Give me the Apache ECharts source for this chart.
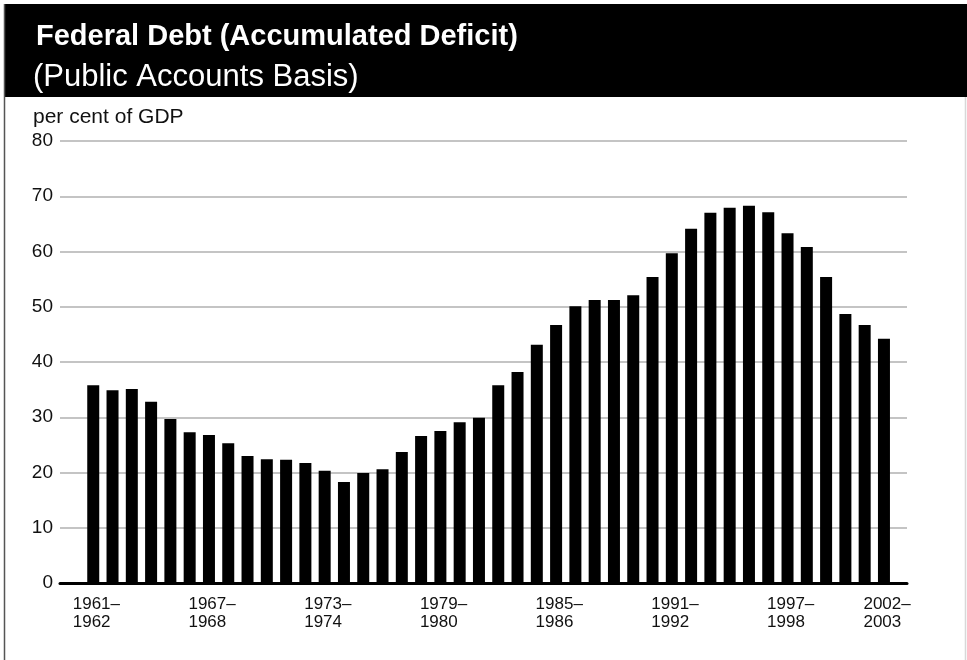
<!DOCTYPE html>
<html>
<head>
<meta charset="utf-8">
<script src="https://cdn.jsdelivr.net/npm/echarts@6/dist/echarts.min.js"></script>
<style>
html,body{margin:0;padding:0;background:#fff;}
#c{width:967px;height:660px;}
</style>
</head>
<body>
<div id="c"></div>
<script>
var categories = ['1961–1962','1962–1963','1963–1964','1964–1965','1965–1966','1966–1967','1967–1968','1968–1969','1969–1970','1970–1971','1971–1972','1972–1973','1973–1974','1974–1975','1975–1976','1976–1977','1977–1978','1978–1979','1979–1980','1980–1981','1981–1982','1982–1983','1983–1984','1984–1985','1985–1986','1986–1987','1987–1988','1988–1989','1989–1990','1990–1991','1991–1992','1992–1993','1993–1994','1994–1995','1995–1996','1996–1997','1997–1998','1998–1999','1999–2000','2000–2001','2001–2002','2002–2003'];
var debtPctGDP = [35.8,34.9,35.1,32.8,29.7,27.3,26.8,25.3,23.0,22.4,22.3,21.7,20.3,18.3,19.9,20.6,23.7,26.6,27.5,29.1,29.9,35.8,38.2,43.1,46.7,50.1,51.2,51.2,52.1,55.4,59.7,64.1,67.0,67.9,68.3,67.1,63.3,60.8,55.4,48.7,46.7,44.2];
var labelIdx = [0,6,12,18,24,30,36,41];
var yTicks = {min: 0, max: 80, step: 10};
var titleText = 'Federal Debt (Accumulated Deficit)';
var subtitleText = '(Public Accounts Basis)';
var unitText = 'per cent of GDP';

var FONT = '"Liberation Sans", Arial, Helvetica, sans-serif';
var chart = echarts.init(document.getElementById('c'), null, {renderer: 'canvas'});
chart.setOption({
  animation: false,
  backgroundColor: '#fff',
  graphic: {elements: [
    {type: 'rect', shape: {x: 4, y: 4, width: 963, height: 93}, style: {fill: '#000'}, z: 0},
    {type: 'line', shape: {x1: 4.5, y1: 4, x2: 4.5, y2: 660}, style: {stroke: '#555', lineWidth: 1.5}},
    {type: 'line', shape: {x1: 965.5, y1: 97, x2: 965.5, y2: 660}, style: {stroke: '#d8d8d8', lineWidth: 1.5}},
    {type: 'text', x: 36, y: 37, style: {text: titleText, fill: '#fff', font: 'bold 29px ' + FONT, verticalAlign: 'middle', textVerticalAlign: 'middle'}},
    {type: 'text', x: 33, y: 77, style: {text: subtitleText, fill: '#fff', font: '31px ' + FONT, verticalAlign: 'middle', textVerticalAlign: 'middle'}},
    {type: 'text', x: 33, y: 117, style: {text: unitText, fill: '#111', font: '21px ' + FONT, verticalAlign: 'middle', textVerticalAlign: 'middle'}}
  ]},
  grid: [
    {left: 60, right: 60, top: 141, height: 442},
    {left: 83.6, right: 73.4, top: 141, height: 442}
  ],
  xAxis: [
    {gridIndex: 0, type: 'value', min: 0, max: 1, axisLabel: {show: false}, axisTick: {show: false}, splitLine: {show: false},
     axisLine: {show: true, lineStyle: {color: '#000', width: 3}}, z: 5},
    {gridIndex: 1, type: 'category', data: categories, boundaryGap: true,
     axisLine: {show: false}, axisTick: {show: false},
     axisLabel: {
       interval: function (i) { return labelIdx.indexOf(i) >= 0; },
       margin: 12,
       formatter: function (v) { var p = v.split('–'); return '{a|' + p[0] + '–}\n{a|' + p[1] + '}'; },
       rich: {a: {width: 41, align: 'left', fontSize: 17, lineHeight: 18, fontFamily: FONT, color: '#111'}}
     }}
  ],
  yAxis: [
    {gridIndex: 0, type: 'value', min: yTicks.min, max: yTicks.max, interval: yTicks.step,
     axisLine: {show: false}, axisTick: {show: false},
     axisLabel: {fontSize: 19, fontFamily: FONT, color: '#111', margin: 7},
     splitLine: {show: true, lineStyle: {color: '#b0b0b0', width: 1.5}}},
    {gridIndex: 1, type: 'value', min: yTicks.min, max: yTicks.max, interval: yTicks.step,
     axisLine: {show: false}, axisTick: {show: false}, axisLabel: {show: false}, splitLine: {show: false}}
  ],
  series: [{
    type: 'bar', xAxisIndex: 1, yAxisIndex: 1, data: debtPctGDP, barWidth: 12,
    itemStyle: {color: '#000'}, z: 3
  }]
});
</script>
</body>
</html>
